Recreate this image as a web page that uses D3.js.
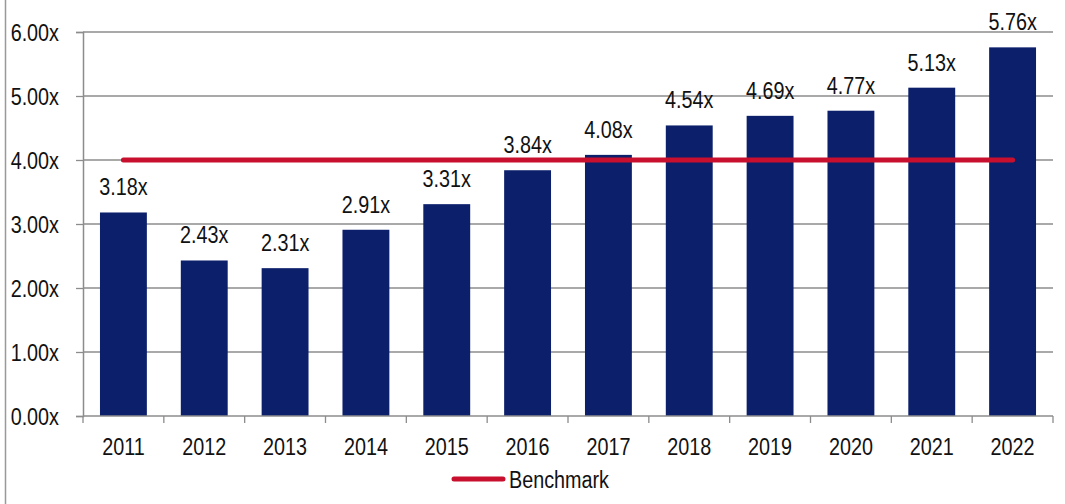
<!DOCTYPE html>
<html><head><meta charset="utf-8">
<script src="https://cdn.jsdelivr.net/npm/d3@7/dist/d3.min.js"></script>
<style>
html,body{margin:0;padding:0;background:#fff;}
svg{display:block;}
text{font-family:"Liberation Sans Narrow","Arial Narrow","Liberation Sans",Arial,sans-serif;fill:#111;}
</style></head>
<body><svg id="c" width="1065" height="504"></svg>
<script>
const years = ["2011","2012","2013","2014","2015","2016","2017","2018","2019","2020","2021","2022"];
const values = [3.18,2.43,2.31,2.91,3.31,3.84,4.08,4.54,4.69,4.77,5.13,5.76];
const benchmark = [4,4,4,4,4,4,4,4,4,4,4,4];
const yTicks = [0,1,2,3,4,5,6];
const legendLabel = "Benchmark";

const svg = d3.select("#c");
const L = 83, R = 1053, T = 32, B = 416;
const S = 0.86; // horizontal condensing to mimic a narrow face
const x = d3.scaleBand().domain(years).range([L, R]).paddingInner(0.42).paddingOuter(0.21);
const y = d3.scaleLinear().domain([0, 6]).range([B, T]);
const grid = "#8c8c8c";

function narrow(sel){
  sel.each(function(){
    const t = d3.select(this);
    const tx = +t.attr("x") || 0, ty = +t.attr("y") || 0;
    t.attr("x",0).attr("y",0).attr("transform",`translate(${tx},${ty}) scale(${S},1)`);
  });
}

// outer left border
svg.append("line").attr("x1",5.5).attr("x2",5.5).attr("y1",0).attr("y2",504).attr("stroke","#999").attr("stroke-width",1.5);

// gridlines
svg.append("g").selectAll("line").data(yTicks.filter(d=>d>0)).join("line")
  .attr("x1", L).attr("x2", R).attr("y1", d=>y(d)).attr("y2", d=>y(d))
  .attr("stroke", grid).attr("stroke-width", 1.3);

// y axis
const ya = svg.append("g").attr("transform",`translate(${L},0)`)
  .call(d3.axisLeft(y).tickValues(yTicks).tickSize(7).tickPadding(17).tickFormat(d=>d3.format(".2f")(d)+"x"));
ya.select(".domain").attr("stroke",grid).attr("stroke-width",1.5);
ya.selectAll(".tick line").attr("stroke",grid).attr("stroke-width",1.3);
ya.selectAll(".tick text").attr("font-size",23).attr("fill","#111").attr("dy","0.36em")
  .style("font-family",'"Liberation Sans Narrow","Arial Narrow","Liberation Sans",Arial,sans-serif')
  .call(narrow);

// bars
svg.append("g").selectAll("rect").data(values).join("rect")
  .attr("x",(d,i)=>x(years[i])).attr("width",x.bandwidth())
  .attr("y",d=>y(d)).attr("height",d=>B-y(d)).attr("fill","#0c1f6b");

// x axis
const xb = d3.scaleLinear().domain([0,12]).range([L,R]);
const xa = svg.append("g").attr("transform",`translate(0,${B})`);
xa.append("line").attr("x1",L).attr("x2",R).attr("stroke",grid).attr("stroke-width",1.5);
xa.selectAll("line.tk").data(d3.range(13)).join("line").attr("class","tk")
  .attr("x1",d=>xb(d)).attr("x2",d=>xb(d)).attr("y1",0).attr("y2",7).attr("stroke",grid).attr("stroke-width",1.3);
xa.selectAll("text").data(years).join("text")
  .attr("x",d=>x(d)+x.bandwidth()/2).attr("y",39).attr("text-anchor","middle").attr("font-size",23).text(d=>d)
  .call(narrow);

// benchmark line
const line = d3.line().x((d,i)=>x(years[i])+x.bandwidth()/2).y(d=>y(d));
svg.append("path").datum(benchmark).attr("d",line).attr("fill","none")
  .attr("stroke","#c8102e").attr("stroke-width",5).attr("stroke-linecap","round");

// value labels
svg.append("g").selectAll("text").data(values).join("text")
  .attr("x",(d,i)=>x(years[i])+x.bandwidth()/2).attr("y",d=>y(d)-17)
  .attr("text-anchor","middle").attr("font-size",23).text(d=>d3.format(".2f")(d)+"x")
  .call(narrow);

// legend
svg.append("line").attr("x1",454).attr("x2",503).attr("y1",479).attr("y2",479)
  .attr("stroke","#c8102e").attr("stroke-width",5).attr("stroke-linecap","round");
svg.append("text").attr("x",509).attr("y",488).attr("font-size",23).text(legendLabel).call(narrow);
</script></body></html>
